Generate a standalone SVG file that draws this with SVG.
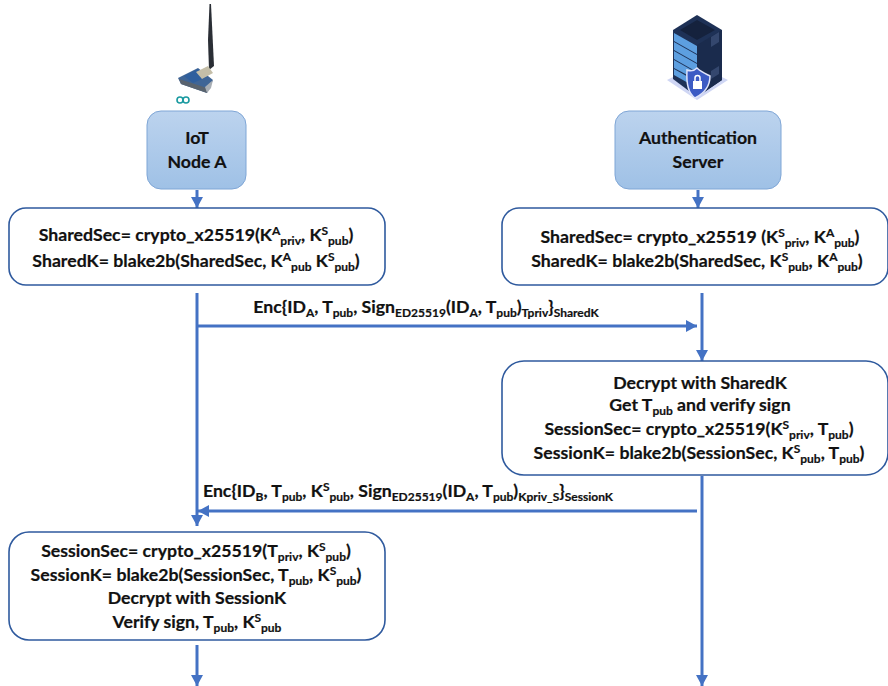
<svg xmlns="http://www.w3.org/2000/svg" width="888" height="686" viewBox="0 0 888 686">
<style>
text{font-family:"Lato","Carlito","Liberation Sans",sans-serif;font-weight:700;font-size:17.7px;fill:#111;text-anchor:middle;stroke:#111;stroke-width:.2}
.s{font-size:12px}
.box{fill:#fff;stroke:#2f5a9e;stroke-width:1.6}
.hd{fill:url(#g);stroke:#7fa6d6;stroke-width:1}
.c{fill:none;stroke:#4472c4;stroke-width:3}
</style>
<defs>
<linearGradient id="g" x1="0" y1="0" x2="0" y2="1"><stop offset="0" stop-color="#bcd3ee"/><stop offset="1" stop-color="#9fc1e6"/></linearGradient>
<marker id="a" markerUnits="userSpaceOnUse" markerWidth="12" markerHeight="12" refX="11" refY="6" orient="auto"><path d="M0 0L11 6L0 12z" fill="#4472c4"/></marker>
</defs>
<g id="connectors">
<path class="c" marker-end="url(#a)" d="M197 190V208"/>
<path class="c" marker-end="url(#a)" d="M698 190V208"/>
<path class="c" marker-end="url(#a)" d="M197 293V526"/>
<path class="c" marker-end="url(#a)" d="M198 326H697"/>
<path class="c" marker-end="url(#a)" d="M702 293V361"/>
<path class="c" marker-end="url(#a)" d="M702 476V686"/>
<path class="c" marker-end="url(#a)" d="M697 511H198"/>
<path class="c" marker-end="url(#a)" d="M197 645V686"/>
</g>
<g id="iot-icon">
<path d="M209.500 4L211 4L214 66L209 70L208 40z" fill="#2a2e35"/>
<path d="M178 78L198 68L213 80L207 93L181 84z" fill="#3f6596"/>
<path d="M184 76L198 69L207 77L193 83z" fill="#2f5f9e"/>
<path d="M196 72L208 66L213 73L202 79z" fill="#c4bea8"/>
<path d="M181 84L207 93L207 88L179 79z" fill="#59636e"/>
<path d="M205 87L213 80L211 88L207 93z" fill="#a8aeb4"/>
<circle cx="180" cy="100" r="3" fill="none" stroke="#1a9aa0" stroke-width="1.6"/>
<circle cx="186" cy="100" r="3" fill="none" stroke="#1a9aa0" stroke-width="1.6"/>
</g>
<g id="server-icon">
<path d="M667 80L697 65L728 80L697 100z" fill="#cfd6f4"/>
<path d="M673 30L697 15L722 30L722 80L697 97L673 79z" fill="#1e3156"/>
<path d="M697 45L722 30L722 80L697 97z" fill="#1a2b4d"/>
<path d="M680 30L697 20L715 30L697 40z" fill="#15223d"/>
<path d="M674 33L697 46V54L674 41z M674 42L697 55V63L674 50z M674 51L697 64V72L674 59z M674 60L697 73V80L674 68z M674 69L690 78V84L674 75z" fill="#5d9fe0"/>
<path d="M711 37L719 32V42L711 47z M711 71L719 66V74L711 79z" fill="#34476e"/>
<path d="M687 70C692 72 695 70 697 68C701 72 706 74 710 76C710 87 703 94 695 98C689 94 686 86 687 70z" fill="#3c5bc4" stroke="#dfe4fa" stroke-width="1.5"/>
<rect x="693" y="81" width="9" height="8" fill="#fff"/>
<path d="M695 81V78a2.500 2.500 0 0 1 5 0V81" fill="none" stroke="#fff" stroke-width="1.5"/>
</g>
<g id="iot-node">
<rect class="hd" x="147" y="111" width="99" height="78" rx="14"/>
<text x="197" y="144">IoT</text>
<text x="197" y="168">Node A</text>
</g>
<g id="auth-server">
<rect class="hd" x="615" y="111" width="166" height="78" rx="14"/>
<text x="698" y="144">Authentication</text>
<text x="698" y="168">Server</text>
</g>
<g id="shared-a">
<rect class="box" x="9" y="208" width="376" height="77" rx="17"/>
<text x="196" y="241">SharedSec= crypto_x25519(K<tspan class="s" dy="-6">A</tspan><tspan class="s" dy="10">priv</tspan><tspan dy="-4">, K</tspan><tspan class="s" dy="-6">S</tspan><tspan class="s" dy="10">pub</tspan><tspan dy="-4">)</tspan></text>
<text x="196" y="267">SharedK= blake2b(SharedSec, K<tspan class="s" dy="-6">A</tspan><tspan class="s" dy="10">pub</tspan><tspan dy="-4"> K</tspan><tspan class="s" dy="-6">S</tspan><tspan class="s" dy="10">pub</tspan><tspan dy="-4">)</tspan></text>
</g>
<g id="shared-s">
<rect class="box" x="502" y="208" width="386" height="77" rx="17"/>
<text x="700" y="243">SharedSec= crypto_x25519 (K<tspan class="s" dy="-6">S</tspan><tspan class="s" dy="10">priv</tspan><tspan dy="-4">, K</tspan><tspan class="s" dy="-6">A</tspan><tspan class="s" dy="10">pub</tspan><tspan dy="-4">)</tspan></text>
<text x="697" y="267">SharedK= blake2b(SharedSec, K<tspan class="s" dy="-6">S</tspan><tspan class="s" dy="10">pub</tspan><tspan dy="-4">, K</tspan><tspan class="s" dy="-6">A</tspan><tspan class="s" dy="10">pub</tspan><tspan dy="-4">)</tspan></text>
</g>
<g id="msg1">
<text x="426" y="313">Enc{ID<tspan class="s" dy="4">A</tspan><tspan dy="-4">, T</tspan><tspan class="s" dy="4">pub</tspan><tspan dy="-4">, Sign</tspan><tspan class="s" dy="4">ED25519</tspan><tspan dy="-4">(ID</tspan><tspan class="s" dy="4">A</tspan><tspan dy="-4">, T</tspan><tspan class="s" dy="4">pub</tspan><tspan dy="-4">)</tspan><tspan class="s" dy="4">Tpriv</tspan><tspan dy="-4">}</tspan><tspan class="s" dy="4">SharedK</tspan></text>
</g>
<g id="decrypt-s">
<rect class="box" x="502" y="361" width="386" height="114" rx="22"/>
<text x="700" y="389">Decrypt with SharedK</text>
<text x="700" y="411">Get T<tspan class="s" dy="4">pub</tspan><tspan dy="-4"> and verify sign</tspan></text>
<text x="699" y="435">SessionSec= crypto_x25519(K<tspan class="s" dy="-6">S</tspan><tspan class="s" dy="10">priv</tspan><tspan dy="-4">, T</tspan><tspan class="s" dy="4">pub</tspan><tspan dy="-4">)</tspan></text>
<text x="686" y="459" style="text-anchor:middle" dx="13">SessionK= blake2b(SessionSec, K<tspan class="s" dy="-6">S</tspan><tspan class="s" dy="10">pub</tspan><tspan dy="-4">, T</tspan><tspan class="s" dy="4">pub</tspan><tspan dy="-4">)</tspan></text>
</g>
<g id="msg2">
<text x="408" y="497">Enc{ID<tspan class="s" dy="4">B</tspan><tspan dy="-4">, T</tspan><tspan class="s" dy="4">pub</tspan><tspan dy="-4">, K</tspan><tspan class="s" dy="-6">S</tspan><tspan class="s" dy="10">pub</tspan><tspan dy="-4">, Sign</tspan><tspan class="s" dy="4">ED25519</tspan><tspan dy="-4">(ID</tspan><tspan class="s" dy="4">A</tspan><tspan dy="-4">, T</tspan><tspan class="s" dy="4">pub</tspan><tspan dy="-4">)</tspan><tspan class="s" dy="4">Kpriv_S</tspan><tspan dy="-4">}</tspan><tspan class="s" dy="4">SessionK</tspan></text>
</g>
<g id="session-a">
<rect class="box" x="9" y="532" width="376" height="108" rx="20"/>
<text x="196" y="557">SessionSec= crypto_x25519(T<tspan class="s" dy="4">priv</tspan><tspan dy="-4">, K</tspan><tspan class="s" dy="-6">S</tspan><tspan class="s" dy="10">pub</tspan><tspan dy="-4">)</tspan></text>
<text x="196" y="581">SessionK= blake2b(SessionSec, T<tspan class="s" dy="4">pub</tspan><tspan dy="-4">, K</tspan><tspan class="s" dy="-6">S</tspan><tspan class="s" dy="10">pub</tspan><tspan dy="-4">)</tspan></text>
<text x="197" y="604">Decrypt with SessionK</text>
<text x="197" y="628">Verify sign, T<tspan class="s" dy="4">pub</tspan><tspan dy="-4">, K</tspan><tspan class="s" dy="-6">S</tspan><tspan class="s" dy="10">pub</tspan></text>
</g>
</svg>
